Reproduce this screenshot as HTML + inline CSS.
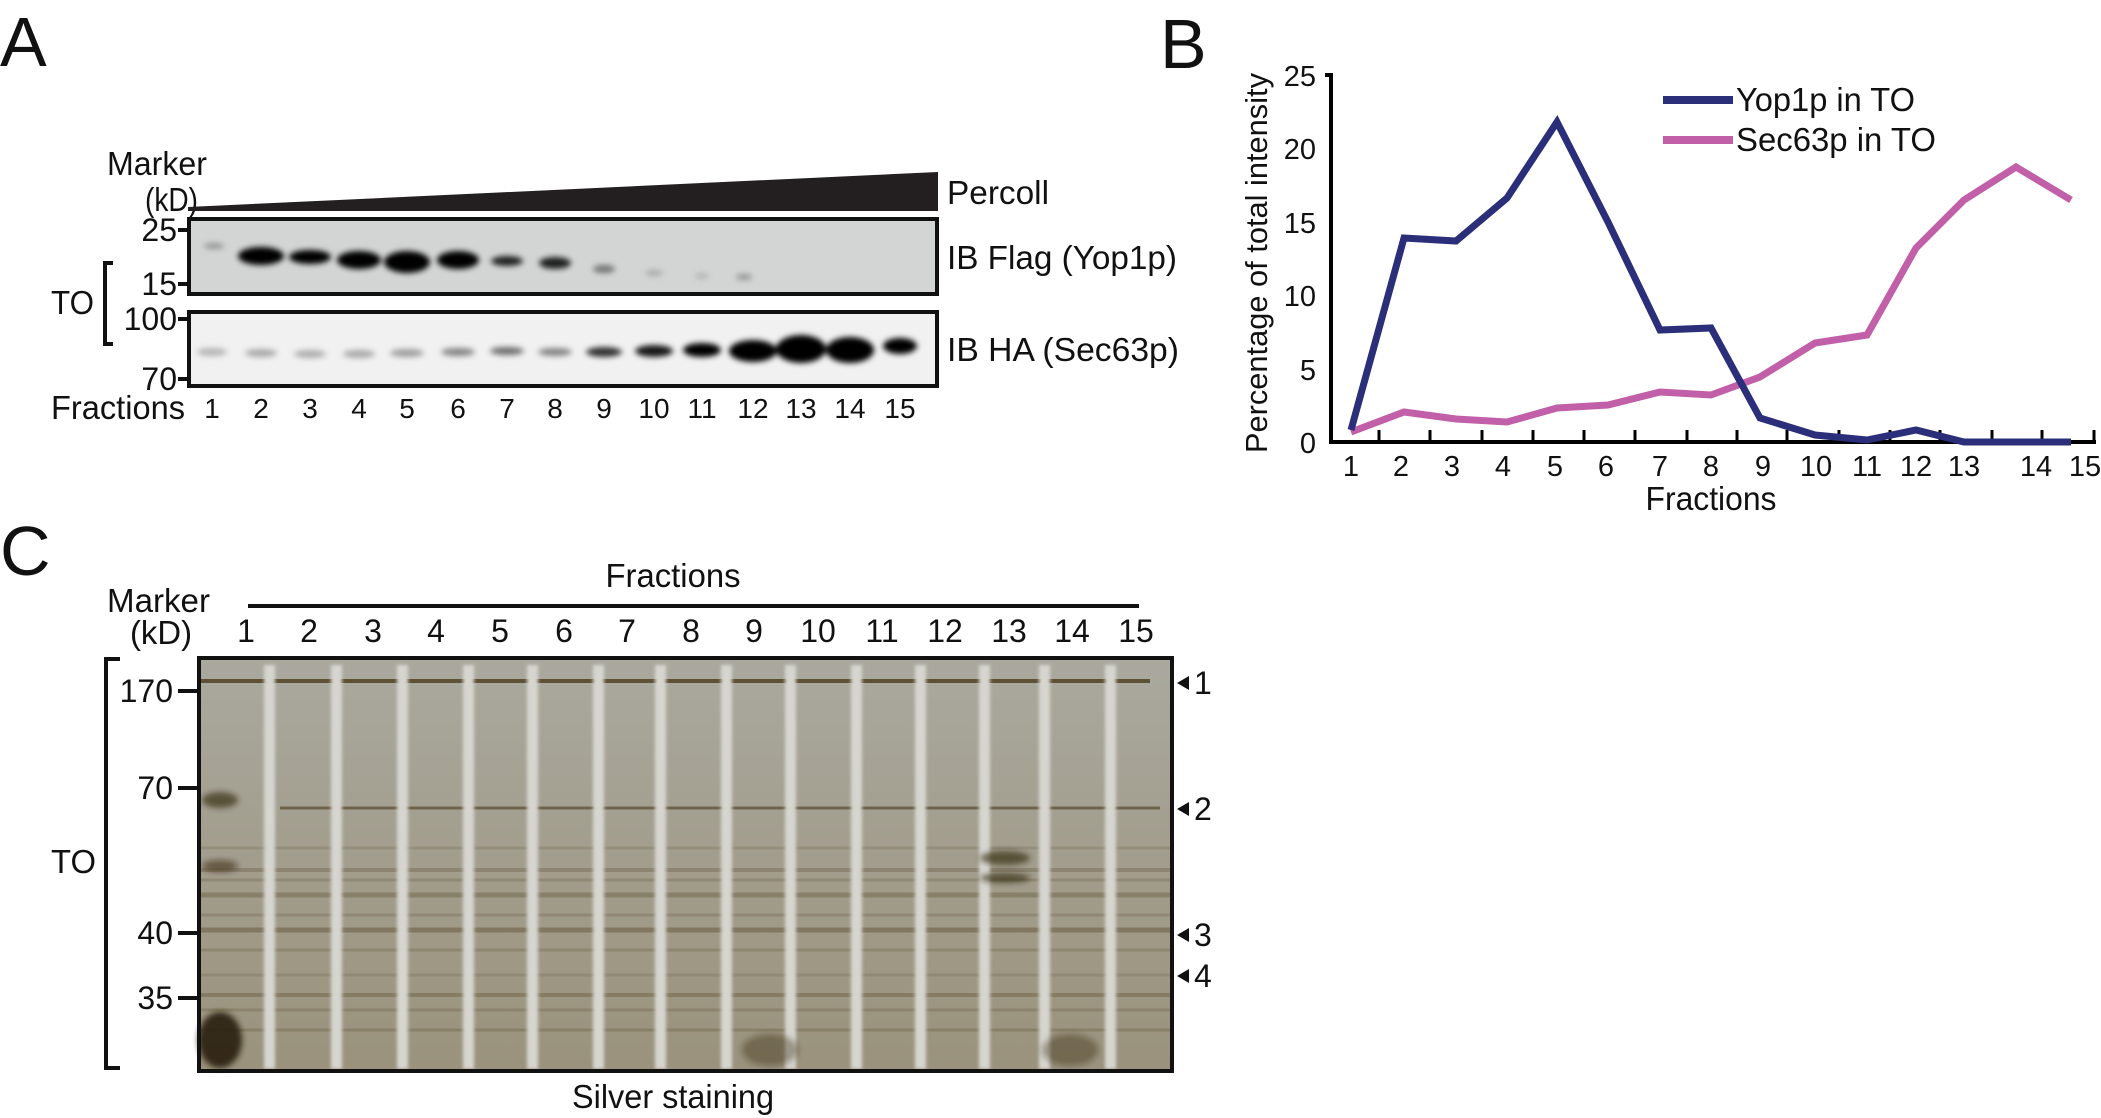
<!DOCTYPE html>
<html><head><meta charset="utf-8"><style>
html,body{margin:0;padding:0;background:#fff;}
svg{display:block}
text{font-family:"Liberation Sans Narrow","Liberation Sans",sans-serif;fill:#111}
</style></head><body>
<svg width="2101" height="1118" viewBox="0 0 2101 1118" xmlns="http://www.w3.org/2000/svg">
<defs>
<filter id="bl" x="-50%" y="-50%" width="200%" height="200%"><feGaussianBlur stdDeviation="3"/></filter>
<filter id="bl2" x="-50%" y="-50%" width="200%" height="200%"><feGaussianBlur stdDeviation="1.5"/></filter>
<linearGradient id="gel" x1="0" y1="0" x2="0" y2="1">
<stop offset="0" stop-color="#aaa99f"/><stop offset="0.5" stop-color="#a29d8c"/><stop offset="1" stop-color="#9a927c"/>
</linearGradient>
</defs>
<!-- Panel A -->
<text x="0" y="66" font-size="70" font-family="Liberation Sans">A</text>
<text x="107" y="175" font-size="33" textLength="100" lengthAdjust="spacingAndGlyphs">Marker</text>
<text x="145" y="211" font-size="33" textLength="53" lengthAdjust="spacingAndGlyphs">(kD)</text>
<polygon points="188,207 938,172 938,211 188,211" fill="#231f20"/>
<text x="947" y="204" font-size="33" textLength="102" lengthAdjust="spacingAndGlyphs">Percoll</text>
<rect x="189" y="219" width="748" height="75" fill="#d3d4d4" stroke="#111" stroke-width="4"/>
<g filter="url(#bl)" fill="#000">
<ellipse cx="214" cy="246" rx="10" ry="3" opacity="0.3"/>
<ellipse cx="261" cy="256" rx="23" ry="9"/>
<ellipse cx="310" cy="257" rx="21" ry="7"/>
<ellipse cx="359" cy="260" rx="22" ry="9"/>
<ellipse cx="407" cy="262" rx="23" ry="11"/>
<ellipse cx="458" cy="260" rx="21" ry="9"/>
<ellipse cx="507" cy="261" rx="16" ry="5" opacity="0.85"/>
<ellipse cx="555" cy="263" rx="16" ry="6" opacity="0.85"/>
<ellipse cx="604" cy="269" rx="11" ry="4" opacity="0.45"/>
<ellipse cx="654" cy="273" rx="9" ry="3" opacity="0.2"/>
<ellipse cx="702" cy="276" rx="7" ry="3" opacity="0.15"/>
<ellipse cx="744" cy="277" rx="8" ry="3" opacity="0.3"/>
</g>
<rect x="189" y="312" width="748" height="74" fill="#f1f1f1" stroke="#111" stroke-width="4"/>
<g filter="url(#bl)" fill="#000">
<ellipse cx="212" cy="352" rx="15" ry="4" opacity="0.25"/>
<ellipse cx="261" cy="353" rx="16" ry="4" opacity="0.3"/>
<ellipse cx="310" cy="354" rx="16" ry="4" opacity="0.28"/>
<ellipse cx="359" cy="354" rx="16" ry="4" opacity="0.3"/>
<ellipse cx="407" cy="353" rx="17" ry="4" opacity="0.35"/>
<ellipse cx="458" cy="352" rx="17" ry="4" opacity="0.45"/>
<ellipse cx="507" cy="351" rx="17" ry="4" opacity="0.55"/>
<ellipse cx="555" cy="352" rx="17" ry="4" opacity="0.45"/>
<ellipse cx="604" cy="352" rx="18" ry="5" opacity="0.8"/>
<ellipse cx="654" cy="351" rx="19" ry="6" opacity="0.9"/>
<ellipse cx="702" cy="350" rx="19" ry="7"/>
<ellipse cx="753" cy="351" rx="24" ry="11"/>
<ellipse cx="801" cy="349" rx="25" ry="14"/>
<ellipse cx="850" cy="350" rx="24" ry="13"/>
<ellipse cx="900" cy="346" rx="17" ry="8"/>
</g>
<g stroke="#111" stroke-width="4">
<line x1="178" y1="230" x2="190" y2="230"/><line x1="178" y1="284" x2="190" y2="284"/>
<line x1="178" y1="319" x2="190" y2="319"/><line x1="178" y1="379" x2="190" y2="379"/>
</g>
<g font-size="32" text-anchor="end">
<text x="177" y="241">25</text><text x="177" y="295">15</text>
<text x="177" y="330">100</text><text x="177" y="390">70</text>
</g>
<path d="M113,263 H105 V344 H113" fill="none" stroke="#111" stroke-width="4"/>
<text x="51" y="314" font-size="33" textLength="43" lengthAdjust="spacingAndGlyphs">TO</text>
<text x="947" y="269" font-size="33" textLength="230" lengthAdjust="spacingAndGlyphs">IB Flag (Yop1p)</text>
<text x="947" y="361" font-size="33" textLength="232" lengthAdjust="spacingAndGlyphs">IB HA (Sec63p)</text>
<text x="51" y="419" font-size="33" textLength="134" lengthAdjust="spacingAndGlyphs">Fractions</text>
<g font-size="28" text-anchor="middle">
<text x="212" y="418">1</text><text x="261" y="418">2</text><text x="310" y="418">3</text><text x="359" y="418">4</text><text x="407" y="418">5</text><text x="458" y="418">6</text><text x="507" y="418">7</text><text x="555" y="418">8</text><text x="604" y="418">9</text><text x="654" y="418">10</text><text x="702" y="418">11</text><text x="753" y="418">12</text><text x="801" y="418">13</text><text x="850" y="418">14</text><text x="900" y="418">15</text>
</g>
<!-- Panel B -->
<text x="1160" y="68" font-size="70" font-family="Liberation Sans">B</text>
<text transform="translate(1267,263) rotate(-90)" font-size="31" text-anchor="middle" font-family="Liberation Sans" textLength="380" lengthAdjust="spacingAndGlyphs">Percentage of total intensity</text>
<g font-size="29" text-anchor="end">
<text x="1316" y="86">25</text><text x="1316" y="159">20</text><text x="1316" y="233">15</text><text x="1316" y="306">10</text><text x="1316" y="380">5</text><text x="1316" y="453">0</text>
</g>
<g stroke="#000" stroke-width="4">
<line x1="1331" y1="73" x2="1331" y2="444"/>
<line x1="1325" y1="75" x2="1333" y2="75"/>
<line x1="1329" y1="442" x2="2096" y2="442"/>
</g>
<g stroke="#000" stroke-width="3">
<line x1="1379" y1="430" x2="1379" y2="442"/><line x1="1430" y1="430" x2="1430" y2="442"/><line x1="1482" y1="430" x2="1482" y2="442"/><line x1="1533" y1="430" x2="1533" y2="442"/><line x1="1584" y1="430" x2="1584" y2="442"/><line x1="1635" y1="430" x2="1635" y2="442"/><line x1="1687" y1="430" x2="1687" y2="442"/><line x1="1737" y1="430" x2="1737" y2="442"/><line x1="1787" y1="430" x2="1787" y2="442"/><line x1="1839" y1="430" x2="1839" y2="442"/><line x1="1890" y1="430" x2="1890" y2="442"/><line x1="1940" y1="430" x2="1940" y2="442"/><line x1="1992" y1="430" x2="1992" y2="442"/><line x1="2042" y1="430" x2="2042" y2="442"/><line x1="2094" y1="430" x2="2094" y2="442"/>
</g>
<g font-size="29" text-anchor="middle">
<text x="1351" y="476">1</text><text x="1401" y="476">2</text><text x="1452" y="476">3</text><text x="1503" y="476">4</text><text x="1555" y="476">5</text><text x="1606" y="476">6</text><text x="1660" y="476">7</text><text x="1711" y="476">8</text><text x="1763" y="476">9</text><text x="1816" y="476">10</text><text x="1867" y="476">11</text><text x="1916" y="476">12</text><text x="1964" y="476">13</text><text x="2036" y="476">14</text><text x="2085" y="476">15</text>
</g>
<text x="1711" y="510" font-size="33" text-anchor="middle" textLength="131" lengthAdjust="spacingAndGlyphs">Fractions</text>
<polyline fill="none" stroke="#c15fa8" stroke-width="7" stroke-linejoin="miter" points="1351,432 1404,412 1456,419 1507,422 1557,408 1608,405 1660,392 1711,395 1760,377 1815,343 1867,335 1916,248 1964,200 2016,167 2071,200"/>
<polyline fill="none" stroke="#2b2e78" stroke-width="7" stroke-linejoin="miter" points="1351,430 1404,238 1456,241 1507,198 1557,122 1608,222 1660,330 1711,328 1760,418 1815,435 1867,440 1916,430 1964,442 2016,442 2071,442"/>
<line x1="1663" y1="100" x2="1733" y2="100" stroke="#2b2e78" stroke-width="8"/>
<line x1="1663" y1="140" x2="1733" y2="140" stroke="#c15fa8" stroke-width="8"/>
<text x="1736" y="111" font-size="33" textLength="179" lengthAdjust="spacingAndGlyphs">Yop1p in TO</text>
<text x="1736" y="151" font-size="33" textLength="200" lengthAdjust="spacingAndGlyphs">Sec63p in TO</text>
<!-- Panel C -->
<text x="0" y="575" font-size="70" font-family="Liberation Sans">C</text>
<text x="673" y="587" font-size="33" text-anchor="middle" textLength="135" lengthAdjust="spacingAndGlyphs">Fractions</text>
<line x1="248" y1="606" x2="1139" y2="606" stroke="#111" stroke-width="4"/>
<text x="107" y="612" font-size="33" textLength="103" lengthAdjust="spacingAndGlyphs">Marker</text>
<text x="130" y="644" font-size="33" textLength="62" lengthAdjust="spacingAndGlyphs">(kD)</text>
<g font-size="32" text-anchor="middle">
<text x="246" y="642">1</text><text x="309" y="642">2</text><text x="373" y="642">3</text><text x="436" y="642">4</text><text x="500" y="642">5</text><text x="564" y="642">6</text><text x="627" y="642">7</text><text x="691" y="642">8</text><text x="754" y="642">9</text><text x="818" y="642">10</text><text x="882" y="642">11</text><text x="945" y="642">12</text><text x="1009" y="642">13</text><text x="1072" y="642">14</text><text x="1136" y="642">15</text>
</g>
<rect x="199" y="658" width="973" height="413" fill="url(#gel)"/>
<g stroke="#4a3a1a" fill="none">
<line x1="200" y1="681" x2="1150" y2="681" stroke-width="4" opacity="0.8"/>
<line x1="280" y1="808" x2="1160" y2="808" stroke-width="3" opacity="0.6"/>
<line x1="200" y1="848" x2="1170" y2="848" stroke-width="3" opacity="0.15"/>
<line x1="200" y1="870" x2="1170" y2="870" stroke-width="4" opacity="0.25"/>
<line x1="200" y1="880" x2="1170" y2="880" stroke-width="3" opacity="0.2"/>
<line x1="200" y1="895" x2="1170" y2="895" stroke-width="5" opacity="0.28"/>
<line x1="200" y1="915" x2="1170" y2="915" stroke-width="3" opacity="0.18"/>
<line x1="200" y1="930" x2="1170" y2="930" stroke-width="5" opacity="0.35"/>
<line x1="200" y1="950" x2="1170" y2="950" stroke-width="3" opacity="0.2"/>
<line x1="200" y1="975" x2="1170" y2="975" stroke-width="3" opacity="0.15"/>
<line x1="200" y1="995" x2="1170" y2="995" stroke-width="4" opacity="0.28"/>
<line x1="200" y1="1010" x2="1170" y2="1010" stroke-width="3" opacity="0.2"/>
<line x1="200" y1="1030" x2="1170" y2="1030" stroke-width="3" opacity="0.22"/>
</g>
<g fill="#d6d5cf" filter="url(#bl2)">
<rect x="264" y="665" width="11" height="404"/><rect x="331" y="665" width="11" height="404"/><rect x="397" y="665" width="11" height="404"/><rect x="463" y="665" width="11" height="404"/><rect x="527" y="665" width="11" height="404"/><rect x="593" y="665" width="11" height="404"/><rect x="655" y="665" width="11" height="404"/><rect x="721" y="665" width="11" height="404"/><rect x="785" y="665" width="11" height="404"/><rect x="851" y="665" width="11" height="404"/><rect x="915" y="665" width="11" height="404"/><rect x="979" y="665" width="11" height="404"/><rect x="1039" y="665" width="11" height="404"/><rect x="1105" y="665" width="11" height="404"/>
</g>
<g fill="#2a1c08" filter="url(#bl)">
<ellipse cx="220" cy="1040" rx="22" ry="28" opacity="0.9"/>
<ellipse cx="220" cy="800" rx="18" ry="8" opacity="0.6"/>
<ellipse cx="220" cy="866" rx="18" ry="6" opacity="0.5"/>
<ellipse cx="1005" cy="858" rx="25" ry="7" opacity="0.6"/>
<ellipse cx="1005" cy="878" rx="25" ry="5" opacity="0.6"/>
<ellipse cx="770" cy="1050" rx="28" ry="16" opacity="0.35"/>
<ellipse cx="1070" cy="1050" rx="28" ry="16" opacity="0.35"/>
</g>
<rect x="199" y="658" width="973" height="413" fill="none" stroke="#111" stroke-width="4"/>
<path d="M120,659 H106 V1068 H120" fill="none" stroke="#111" stroke-width="4"/>
<text x="51" y="873" font-size="33" textLength="45" lengthAdjust="spacingAndGlyphs">TO</text>
<g stroke="#111" stroke-width="4">
<line x1="178" y1="691" x2="198" y2="691"/><line x1="178" y1="788" x2="198" y2="788"/><line x1="178" y1="933" x2="198" y2="933"/><line x1="178" y1="998" x2="198" y2="998"/>
</g>
<g font-size="32" text-anchor="end">
<text x="173" y="702">170</text><text x="173" y="799">70</text><text x="173" y="944">40</text><text x="173" y="1009">35</text>
</g>
<g fill="#111">
<polygon points="1177,683 1189,676 1189,690"/><polygon points="1177,809 1189,802 1189,816"/><polygon points="1177,935 1189,928 1189,942"/><polygon points="1177,976 1189,969 1189,983"/>
</g>
<g font-size="32">
<text x="1194" y="694">1</text><text x="1194" y="820">2</text><text x="1194" y="946">3</text><text x="1194" y="987">4</text>
</g>
<text x="673" y="1108" font-size="33" text-anchor="middle" textLength="202" lengthAdjust="spacingAndGlyphs">Silver staining</text>
</svg>
</body></html>
